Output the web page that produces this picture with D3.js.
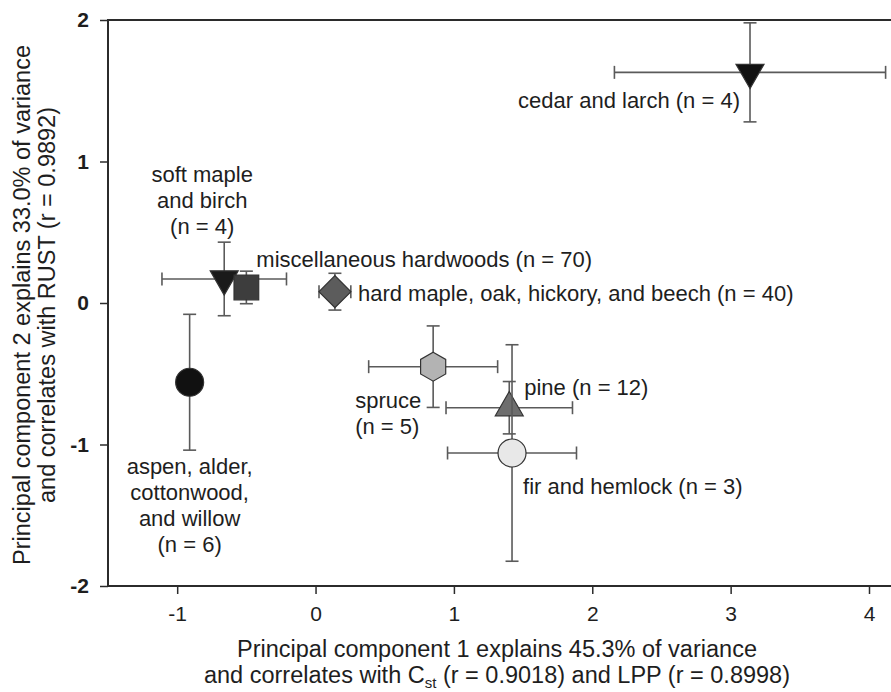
<!DOCTYPE html>
<html>
<head>
<meta charset="utf-8">
<script src="https://cdn.jsdelivr.net/npm/d3@7"></script>
<style>
  html, body { margin: 0; padding: 0; background: #fff; }
  svg { display: block; font-family: "Liberation Sans", Arial, sans-serif; }
</style>
</head>
<body>
<svg id="chart" width="891" height="692"></svg>
<script>
// ---------------- data ----------------
const species = [
  "aspen, alder, cottonwood, and willow",
  "soft maple and birch",
  "miscellaneous hardwoods",
  "hard maple, oak, hickory, and beech",
  "spruce",
  "pine",
  "fir and hemlock",
  "cedar and larch"
];
const nValues = [6, 4, 70, 40, 5, 12, 3, 4];
const pc1 = [-0.91, -0.66, -0.50, 0.14, 0.85, 1.40, 1.42, 3.14];
const pc2 = [-0.56, 0.17, 0.11, 0.08, -0.45, -0.74, -1.06, 1.63];
const pc1Err = [0.06, 0.45, 0.06, 0.115, 0.466, 0.457, 0.466, 0.98];
const pc2Err = [0.48, 0.26, 0.115, 0.13, 0.288, 0.185, 0.765, 0.35];
const labelLines = [
  ["aspen, alder,", "cottonwood,", "and willow", "(n = 6)"],
  ["soft maple", "and birch", "(n = 4)"],
  ["miscellaneous hardwoods (n = 70)"],
  ["hard maple, oak, hickory, and beech (n = 40)"],
  ["spruce", "(n = 5)"],
  ["pine (n = 12)"],
  ["fir and hemlock (n = 3)"],
  ["cedar and larch (n = 4)"]
];
const xTicks = [-1, 0, 1, 2, 3, 4];
const yTicks = [-2, -1, 0, 1, 2];
const xTitle1 = "Principal component 1 explains 45.3% of variance";
const yTitle1 = "Principal component 2 explains 33.0% of variance";
const yTitle2 = "and correlates with RUST (r = 0.9892)";

// ---------------- styles / layout ----------------
const markerStyle = [
  { shape: "circle",  size: 616, fill: "#111111" },
  { shape: "triDown", size: 339, fill: "#1a1a1a" },
  { shape: "square",  size: 610, fill: "#3d3d3d" },
  { shape: "diamond", size: 512, fill: "#5c5c5c" },
  { shape: "hexagon", size: 14.5, fill: "#b3b3b3" },
  { shape: "triUp",   size: 339, fill: "#6e6e6e" },
  { shape: "circle",  size: 616, fill: "#e8e8e8" },
  { shape: "triDown", size: 339, fill: "#111111" }
];
const labelLayout = [
  { dx: 0,   dy: 84,  anchor: "middle" },
  { dx: -22, dy: -105, anchor: "middle" },
  { dx: 10,  dy: -28, anchor: "start" },
  { dx: 23,  dy: 1,   anchor: "start" },
  { dx: -78, dy: 33,  anchor: "start" },
  { dx: 15,  dy: -21, anchor: "start" },
  { dx: 11,  dy: 33,  anchor: "start" },
  { dx: -10, dy: 28,  anchor: "end" }
];
const lineH = 26;

const W = 891, H = 692;
const mL = 108, mR = 869, mT = 20, mB = 586;

const svg = d3.select("#chart");
const x = d3.scaleLinear().domain([-1.5, 4]).range([mL, mR]);
const y = d3.scaleLinear().domain([-2, 2]).range([mB, mT]);

const axisColor = "#2b2b2b";
const textColor = "#1e1e1e";
const fmt = d => String(d);   // plain hyphen-minus like the original

// frame lines
svg.append("line").attr("x1", mL).attr("x2", W).attr("y1", mT).attr("y2", mT)
  .attr("stroke", axisColor).attr("stroke-width", 2);
svg.append("line").attr("x1", mL).attr("x2", W).attr("y1", mB).attr("y2", mB)
  .attr("stroke", axisColor).attr("stroke-width", 2);
svg.append("line").attr("x1", mL).attr("x2", mL).attr("y1", mT - 1).attr("y2", mB + 1)
  .attr("stroke", axisColor).attr("stroke-width", 2);

// axes
const gx = svg.append("g").attr("transform", `translate(0,${mB})`)
  .call(d3.axisBottom(x).tickValues(xTicks).tickSize(8).tickPadding(12).tickFormat(fmt));
gx.select(".domain").remove();
gx.selectAll(".tick line").attr("stroke", axisColor).attr("stroke-width", 1.5);
gx.selectAll(".tick text").attr("fill", textColor).attr("font-size", 21)
  .attr("font-family", "Liberation Sans, Arial, sans-serif");

const gy = svg.append("g").attr("transform", `translate(${mL},0)`)
  .call(d3.axisLeft(y).tickValues(yTicks).tickSize(8).tickPadding(11).tickFormat(fmt));
gy.select(".domain").remove();
gy.selectAll(".tick line").attr("stroke", axisColor).attr("stroke-width", 1.5);
gy.selectAll(".tick text").attr("fill", textColor).attr("font-size", 21).attr("font-weight", "bold")
  .attr("font-family", "Liberation Sans, Arial, sans-serif");

// axis titles
const titleSize = 23.5;
svg.append("text").attr("x", 497).attr("y", 657).attr("text-anchor", "middle")
  .attr("font-size", titleSize).attr("fill", textColor).text(xTitle1);
const xt2 = svg.append("text").attr("x", 497).attr("y", 683).attr("text-anchor", "middle")
  .attr("font-size", titleSize).attr("fill", textColor);
xt2.append("tspan").text("and correlates with C");
xt2.append("tspan").attr("font-size", 15).attr("dy", 5).text("st");
xt2.append("tspan").attr("dy", -5).text(" (r = 0.9018) and LPP (r = 0.8998)");

svg.append("text").attr("transform", "translate(30,305) rotate(-90)").attr("text-anchor", "middle")
  .attr("font-size", titleSize).attr("fill", textColor).text(yTitle1);
svg.append("text").attr("transform", "translate(55,305) rotate(-90)").attr("text-anchor", "middle")
  .attr("font-size", titleSize).attr("fill", textColor).text(yTitle2);

// hexagon symbol (pointy-top), size = circumradius
const hexagon = {
  draw(ctx, r) {
    for (let k = 0; k < 6; k++) {
      const a = -Math.PI / 2 + k * Math.PI / 3;
      const px = r * Math.cos(a), py = r * Math.sin(a);
      if (k === 0) ctx.moveTo(px, py); else ctx.lineTo(px, py);
    }
    ctx.closePath();
  }
};
function symbolPath(st) {
  switch (st.shape) {
    case "circle": return d3.symbol().type(d3.symbolCircle).size(st.size)();
    case "square": return d3.symbol().type(d3.symbolSquare).size(st.size)();
    case "diamond": return d3.symbol().type(d3.symbolSquare).size(st.size)();
    case "triUp": case "triDown": return d3.symbol().type(d3.symbolTriangle).size(st.size)();
    case "hexagon": return d3.symbol().type(hexagon).size(st.size)();
  }
}
function symbolRotate(st) {
  if (st.shape === "triDown") return 180;
  if (st.shape === "diamond") return 45;
  return 0;
}

const errColor = "#5a5a5a";
const cap = 6.5;
const data = species.map((s, i) => ({
  name: s, n: nValues[i], x: pc1[i], y: pc2[i], ex: pc1Err[i], ey: pc2Err[i],
  lines: labelLines[i], st: markerStyle[i], lay: labelLayout[i]
}));

const pts = svg.append("g");
data.forEach(d => {
  const g = pts.append("g");
  const cx = x(d.x), cy = y(d.y);
  const x0 = x(d.x - d.ex), x1 = x(d.x + d.ex);
  const y0 = y(d.y - d.ey), y1 = y(d.y + d.ey);
  const eb = g.append("g").attr("stroke", errColor).attr("stroke-width", 1.6).attr("fill", "none");
  eb.append("line").attr("x1", x0).attr("x2", x1).attr("y1", cy).attr("y2", cy);
  eb.append("line").attr("x1", x0).attr("x2", x0).attr("y1", cy - cap).attr("y2", cy + cap);
  eb.append("line").attr("x1", x1).attr("x2", x1).attr("y1", cy - cap).attr("y2", cy + cap);
  eb.append("line").attr("x1", cx).attr("x2", cx).attr("y1", y0).attr("y2", y1);
  eb.append("line").attr("x1", cx - cap).attr("x2", cx + cap).attr("y1", y0).attr("y2", y0);
  eb.append("line").attr("x1", cx - cap).attr("x2", cx + cap).attr("y1", y1).attr("y2", y1);
  g.append("path").attr("d", symbolPath(d.st))
    .attr("transform", `translate(${cx},${cy}) rotate(${symbolRotate(d.st)})`)
    .attr("fill", d.st.fill).attr("stroke", "#333").attr("stroke-width", 1.2);
});

// labels
const lab = svg.append("g").attr("fill", textColor).attr("font-size", 22);
data.forEach(d => {
  const t = lab.append("text")
    .attr("x", x(d.x) + d.lay.dx).attr("y", y(d.y) + d.lay.dy)
    .attr("text-anchor", d.lay.anchor).attr("dominant-baseline", "central");
  d.lines.forEach((ln, j) => {
    t.append("tspan").attr("x", x(d.x) + d.lay.dx).attr("dy", j === 0 ? 0 : lineH).text(ln);
  });
});
</script>
</body>
</html>
